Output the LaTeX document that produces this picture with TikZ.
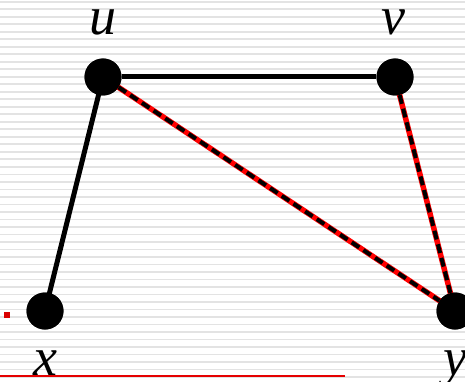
\documentclass[tikz,border=0pt]{standalone}
\usepackage{fontspec}
\setmainfont{Liberation Serif}
\begin{document}
\begin{tikzpicture}[x=1pt,y=-1pt,
  vertex/.style={circle,fill=black,inner sep=0pt,minimum size=37pt},
  lbl/.style={font=\fontsize{54}{54}\selectfont\itshape,inner sep=0pt,anchor=base},
  solidedge/.style={line width=5pt,black},
  rededge/.style={line width=5.5pt,red},
  dashedge/.style={line width=4pt,black,dash pattern=on 9pt off 5pt}]
\useasboundingbox (0,0) rectangle (465,382);
\foreach \k in {0,...,50} {
  \fill[gray!22] (0,{1+7.5*\k}) rectangle (465,{2.6+7.5*\k});
}
\fill[red!85!black] (4,312) rectangle (10,318);
\draw[red!90!black,line width=1.3pt] (0,376) -- (345,376);
\node[vertex] (u) at (103,77) {};
\node[vertex] (v) at (395,77) {};
\node[vertex] (x) at (45,311) {};
\node[vertex] (y) at (455,311) {};
\draw[solidedge] (u) -- (v);
\draw[solidedge] (u.center) -- (x.center);
\draw[rededge] (u.center) -- (y.center);
\draw[dashedge] (u) -- (y);
\draw[rededge] (v.center) -- (y.center);
\draw[dashedge] (v) -- (y);
\node[vertex] at (u) {};
\node[vertex] at (v) {};
\node[vertex] at (x) {};
\node[vertex] at (y) {};
\node[lbl] (lu) at (103,35) {u};
\node[lbl] (lv) at (393,35) {v};
\node[lbl] (lx) at (45,375) {x};
\node[lbl] (ly) at (455,375) {y};
\end{tikzpicture}
\end{document}
